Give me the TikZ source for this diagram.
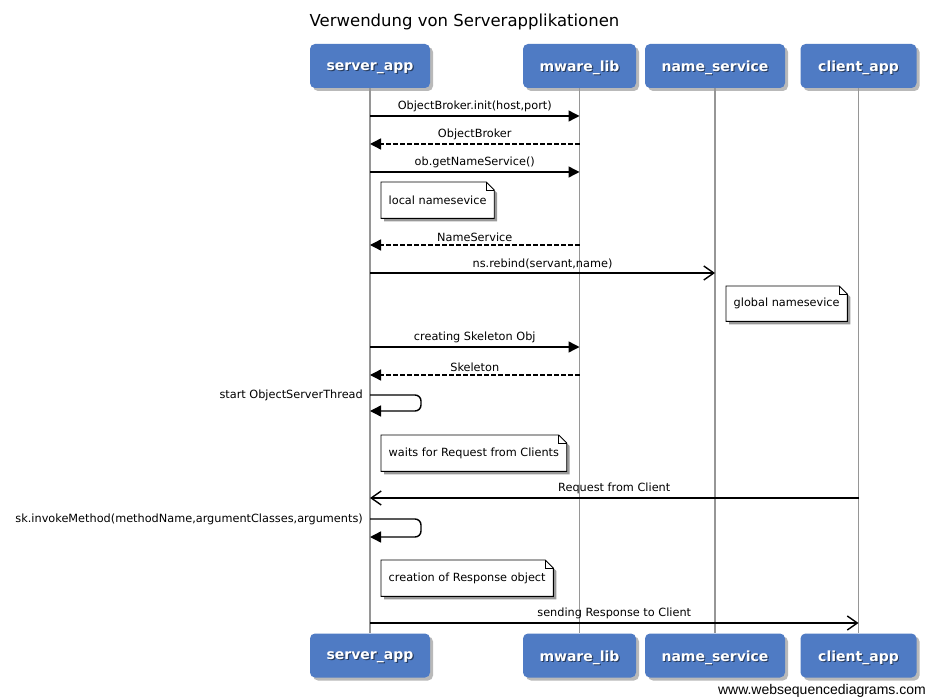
\documentclass[tikz,border=0pt]{standalone}
\usepackage{fontspec}
\setmainfont{DejaVu Sans}
\newfontfamily\footfont{Liberation Sans}
\usetikzlibrary{arrows.meta,shadows,backgrounds}
\definecolor{partblue}{RGB}{79,123,196}
\definecolor{lifegray}{RGB}{150,150,150}
\tikzset{
  part/.style={draw=none,fill=partblue,rounded corners=5pt,minimum height=44pt,inner sep=0pt,
    drop shadow={shadow xshift=3pt,shadow yshift=-3pt,opacity=.55}},
  parttxt/.style={inner sep=0pt,text=white,font=\fontsize{14}{16}\selectfont\bfseries},
  life/.style={draw=lifegray,line width=1.4pt},
  msglbl/.style={inner sep=0pt,font=\fontsize{11.3}{13}\selectfont},
  sync/.style={line width=1.4pt,-{Triangle[length=11pt,width=11pt]}},
  ret/.style={sync,dash pattern=on 4.5pt off 2.5pt},
  async/.style={line width=1.4pt,-{Straight Barb[length=10pt,width=14pt,line width=1.4pt]}},
  selfmsg/.style={sync,rounded corners=6pt},
  notetxt/.style={inner xsep=7.5pt,inner ysep=0pt,minimum height=36pt,anchor=north west,font=\fontsize{11.3}{13}\selectfont}
}
\newcommand\partbox[5]{%
  \node[part,minimum width=#4] (#1) at (#2,#3) {};
  \node[parttxt,text=black,opacity=.5] (#1sh) at ([shift={(1.2,3.2)}]#1.center) {#5};
  \node[parttxt] (#1tx) at ([shift={(0,2)}]#1.center) {#5};
}
\newcommand\notebg[1]{%
  \begin{scope}[on background layer]
    \fill[black,opacity=.4] ([shift={(3,3)}]#1.north west) -- ([shift={(-5,3)}]#1.north east) -- ([shift={(3,11)}]#1.north east) -- ([shift={(3,3)}]#1.south east) -- ([shift={(3,3)}]#1.south west) -- cycle;
    \draw[fill=white,line width=0.9pt] (#1.north west) -- ([xshift=-8pt]#1.north east) -- ([yshift=-8pt]#1.north east) -- (#1.south east) -- (#1.south west) -- cycle;
    \draw[line width=0.7pt] ([xshift=-8pt]#1.north east) -- ([xshift=-8pt,yshift=-8pt]#1.north east) -- ([yshift=-8pt]#1.north east);
  \end{scope}
}
\begin{document}
\begin{tikzpicture}[x=1pt,y=-1pt]
\begin{scope}[on background layer]
\fill[white] (0,0) rectangle (928,700);
\end{scope}
\useasboundingbox (0,0) rectangle (928,700);

\node[font=\fontsize{16.5}{19}\selectfont] (title) at (464.5,22) {Verwendung von Serverapplikationen};

% participants
\partbox{sa}{370}{66}{120pt}{server\_app}
\partbox{ml}{579.5}{66}{113pt}{mware\_lib}
\partbox{ns}{715}{66}{140pt}{name\_service}
\partbox{ca}{858.5}{66}{116pt}{client\_app}
\partbox{sab}{370}{655.5}{120pt}{server\_app}
\partbox{mlb}{579.5}{655.5}{113pt}{mware\_lib}
\partbox{nsb}{715}{655.5}{140pt}{name\_service}
\partbox{cab}{858.5}{655.5}{116pt}{client\_app}

% lifelines
\draw[life] (sa.south) -- (sab.north);
\draw[life] (ml.south) -- (mlb.north);
\draw[life] (ns.south) -- (nsb.north);
\draw[life] (ca.south) -- (cab.north);

% message end points
\coordinate (a1) at (370,116); \coordinate (b1) at (579.5,116);
\coordinate (a2) at (370,144); \coordinate (b2) at (579.5,144);
\coordinate (a3) at (370,172); \coordinate (b3) at (579.5,172);
\coordinate (a4) at (370,245); \coordinate (b4) at (579.5,245);
\coordinate (a5) at (370,273); \coordinate (b5) at (715,273);
\coordinate (a6) at (370,347); \coordinate (b6) at (579.5,347);
\coordinate (a7) at (370,375); \coordinate (b7) at (579.5,375);
\coordinate (s1a) at (370,395); \coordinate (s1b) at (370,411);
\coordinate (a8) at (370,498); \coordinate (b8) at (858.5,498);
\coordinate (s2a) at (370,519); \coordinate (s2b) at (370,537);
\coordinate (a9) at (370,623); \coordinate (b9) at (858.5,623);

\draw[sync] (a1) -- (b1) node[midway,above=3pt,msglbl] (l1) {ObjectBroker.init(host,port)};
\draw[ret] (b2) -- (a2) node[midway,above=3pt,msglbl] (l2) {ObjectBroker};
\draw[sync] (a3) -- (b3) node[midway,above=3pt,msglbl] (l3) {ob.getNameService()};

\node[notetxt] (n1) at (381,182) {local namesevice};
\notebg{n1}

\draw[ret] (b4) -- (a4) node[midway,above=3pt,msglbl] (l4) {NameService};
\draw[async] (a5) -- (b5) node[midway,above=3pt,msglbl] (l5) {ns.rebind(servant,name)};

\node[notetxt,minimum height=35pt] (n2) at (726,286) {global namesevice};
\notebg{n2}

\draw[sync] (a6) -- (b6) node[midway,above=3pt,msglbl] (l6) {creating Skeleton Obj};
\draw[ret] (b7) -- (a7) node[midway,above=3pt,msglbl] (l7) {Skeleton};

\draw[selfmsg] (s1a) -- ++(51,0) -- ++(0,16) -- (s1b);
\node[msglbl,anchor=east] (ls1) at (363,395) {start ObjectServerThread};

\node[notetxt] (n3) at (381,435) {waits for Request from Clients};
\notebg{n3}

\draw[async] (b8) -- (a8) node[midway,above=3pt,msglbl] (l8) {Request from Client};

\draw[selfmsg] (s2a) -- ++(51,0) -- ++(0,18) -- (s2b);
\node[msglbl,anchor=east] (ls2) at (363,519) {sk.invokeMethod(methodName,argumentClasses,arguments)};

\node[notetxt] (n4) at (381,560) {creation of Response object};
\notebg{n4}

\draw[async] (a9) -- (b9) node[midway,above=3pt,msglbl] (l9) {sending Response to Client};

\node[anchor=east,inner sep=0pt,font=\footfont\fontsize{14}{16}\selectfont] (foot) at (926,691) {www.websequencediagrams.com};
\end{tikzpicture}
\end{document}
